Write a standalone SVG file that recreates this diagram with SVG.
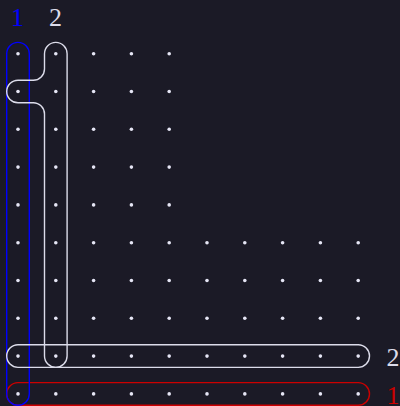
<svg xmlns="http://www.w3.org/2000/svg" xmlns:xlink="http://www.w3.org/1999/xlink" width="400" height="406" viewBox="0 0 400 406">
<style>
.bg{fill:#1b1a26}
.dot{fill:#e6e6f5}
.grp{fill:none;stroke-width:1.4}
.blue{stroke:#0000ff}
.red{stroke:#cc0000}
.white{stroke:#dcdcea}
.lbl{font-family:"Liberation Serif","Times New Roman",serif;font-size:26px}
</style>
<defs>
<circle id="d" r="1.8" class="dot"/>
</defs>
<rect class="bg" x="0" y="0" width="400" height="406"/>
<g id="dots">
<use xlink:href="#d" x="18" y="53.7"/><use xlink:href="#d" x="55.8" y="53.7"/><use xlink:href="#d" x="93.6" y="53.7"/><use xlink:href="#d" x="131.4" y="53.7"/><use xlink:href="#d" x="169.2" y="53.7"/>
<use xlink:href="#d" x="18" y="91.5"/><use xlink:href="#d" x="55.8" y="91.5"/><use xlink:href="#d" x="93.6" y="91.5"/><use xlink:href="#d" x="131.4" y="91.5"/><use xlink:href="#d" x="169.2" y="91.5"/>
<use xlink:href="#d" x="18" y="129.3"/><use xlink:href="#d" x="55.8" y="129.3"/><use xlink:href="#d" x="93.6" y="129.3"/><use xlink:href="#d" x="131.4" y="129.3"/><use xlink:href="#d" x="169.2" y="129.3"/>
<use xlink:href="#d" x="18" y="167.1"/><use xlink:href="#d" x="55.8" y="167.1"/><use xlink:href="#d" x="93.6" y="167.1"/><use xlink:href="#d" x="131.4" y="167.1"/><use xlink:href="#d" x="169.2" y="167.1"/>
<use xlink:href="#d" x="18" y="204.9"/><use xlink:href="#d" x="55.8" y="204.9"/><use xlink:href="#d" x="93.6" y="204.9"/><use xlink:href="#d" x="131.4" y="204.9"/><use xlink:href="#d" x="169.2" y="204.9"/>
<use xlink:href="#d" x="18" y="242.7"/><use xlink:href="#d" x="55.8" y="242.7"/><use xlink:href="#d" x="93.6" y="242.7"/><use xlink:href="#d" x="131.4" y="242.7"/><use xlink:href="#d" x="169.2" y="242.7"/><use xlink:href="#d" x="207" y="242.7"/><use xlink:href="#d" x="244.8" y="242.7"/><use xlink:href="#d" x="282.6" y="242.7"/><use xlink:href="#d" x="320.4" y="242.7"/><use xlink:href="#d" x="358.2" y="242.7"/>
<use xlink:href="#d" x="18" y="280.5"/><use xlink:href="#d" x="55.8" y="280.5"/><use xlink:href="#d" x="93.6" y="280.5"/><use xlink:href="#d" x="131.4" y="280.5"/><use xlink:href="#d" x="169.2" y="280.5"/><use xlink:href="#d" x="207" y="280.5"/><use xlink:href="#d" x="244.8" y="280.5"/><use xlink:href="#d" x="282.6" y="280.5"/><use xlink:href="#d" x="320.4" y="280.5"/><use xlink:href="#d" x="358.2" y="280.5"/>
<use xlink:href="#d" x="18" y="318.3"/><use xlink:href="#d" x="55.8" y="318.3"/><use xlink:href="#d" x="93.6" y="318.3"/><use xlink:href="#d" x="131.4" y="318.3"/><use xlink:href="#d" x="169.2" y="318.3"/><use xlink:href="#d" x="207" y="318.3"/><use xlink:href="#d" x="244.8" y="318.3"/><use xlink:href="#d" x="282.6" y="318.3"/><use xlink:href="#d" x="320.4" y="318.3"/><use xlink:href="#d" x="358.2" y="318.3"/>
<use xlink:href="#d" x="18" y="356.1"/><use xlink:href="#d" x="55.8" y="356.1"/><use xlink:href="#d" x="93.6" y="356.1"/><use xlink:href="#d" x="131.4" y="356.1"/><use xlink:href="#d" x="169.2" y="356.1"/><use xlink:href="#d" x="207" y="356.1"/><use xlink:href="#d" x="244.8" y="356.1"/><use xlink:href="#d" x="282.6" y="356.1"/><use xlink:href="#d" x="320.4" y="356.1"/><use xlink:href="#d" x="358.2" y="356.1"/>
<use xlink:href="#d" x="18" y="393.9"/><use xlink:href="#d" x="55.8" y="393.9"/><use xlink:href="#d" x="93.6" y="393.9"/><use xlink:href="#d" x="131.4" y="393.9"/><use xlink:href="#d" x="169.2" y="393.9"/><use xlink:href="#d" x="207" y="393.9"/><use xlink:href="#d" x="244.8" y="393.9"/><use xlink:href="#d" x="282.6" y="393.9"/><use xlink:href="#d" x="320.4" y="393.9"/><use xlink:href="#d" x="358.2" y="393.9"/>
</g>
<g id="row1-red">
<rect class="grp red" x="6.7" y="382.6" width="362.8" height="22.6" rx="11.3"/>
<text class="lbl" x="386.5" y="404" fill="#cc0000">1</text>
</g>
<g id="col1-blue">
<rect class="grp blue" x="6.7" y="42.4" width="22.6" height="362.8" rx="11.3"/>
<text class="lbl" x="17.5" y="25.5" fill="#0000ff" text-anchor="middle">1</text>
</g>
<g id="col2-white">
<path class="grp white" d="M44.5,53.7 A11.3,11.3 0 0 1 67.1,53.7 V356.1 A11.3,11.3 0 0 1 44.5,356.1 V114.1 A11.3,11.3 0 0 0 33.2,102.8 H18 A11.3,11.3 0 0 1 18,80.2 H33.2 A11.3,11.3 0 0 0 44.5,68.9 Z"/>
<text class="lbl" x="55.5" y="25.5" fill="#dcdcea" text-anchor="middle">2</text>
</g>
<g id="row2-white">
<rect class="grp white" x="6.7" y="344.8" width="362.8" height="22.6" rx="11.3"/>
<text class="lbl" x="386.5" y="365.8" fill="#dcdcea">2</text>
</g>
<g id="connectors"/>
</svg>
